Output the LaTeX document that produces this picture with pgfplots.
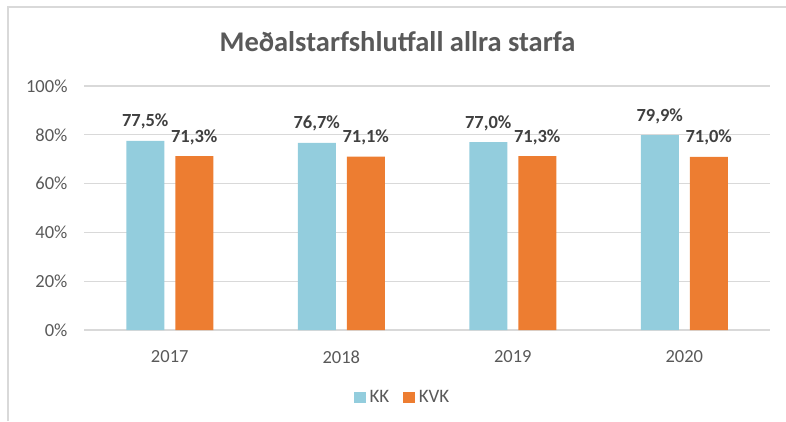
\documentclass[border=0pt]{standalone}
\usepackage{fontspec}
\setmainfont{Carlito}
\usepackage{pgfplots}
\pgfplotsset{compat=1.18}
\definecolor{kk}{HTML}{93CDDD}
\definecolor{kvk}{HTML}{ED7D31}
\definecolor{txt}{HTML}{595959}
\definecolor{lbl}{HTML}{404040}
\definecolor{grd}{HTML}{D9D9D9}
\begin{document}
\begin{tikzpicture}
\path[use as bounding box] (0pt,0pt) rectangle (786pt,421pt);
\draw[grd, line width=1.5pt] (8pt,0pt) -- (8pt,414pt) -- (786pt,414pt);
\node[anchor=base, text=txt, font=\fontsize{28.5}{32}\selectfont\bfseries, inner sep=0pt] at (397.5pt,369pt) {Meðalstarfshlutfall allra starfa};
\begin{axis}[
  at={(84pt,91pt)}, anchor=south west,
  scale only axis, width=686pt, height=244pt,
  ymin=0, ymax=100, xmin=-0.5, xmax=3.5,
  ybar=11pt, bar width=38pt,
  xtick=data, xticklabels={2017,2018,2019,2020},
  ytick={0,20,...,100},
  /pgf/number format/assume math mode=true,
  yticklabel={\pgfmathprintnumber{\tick}\%},
  ymajorgrids, grid style={grd, line width=1.3pt},
  axis line style={draw=none},
  tick style={draw=none},
  tick label style={font=\fontsize{18.5}{20}\selectfont, text=txt},
  yticklabel style={xshift=-13pt},
  xticklabel style={yshift=-13pt},
  nodes near coords={\pgfmathprintnumber[fixed,fixed zerofill,precision=1,use comma]{\pgfplotspointmeta}\%},
  every node near coord/.append style={font=\fontsize{18.5}{20}\selectfont\bfseries, text=lbl, anchor=base, yshift=14pt, inner sep=0pt},
  legend style={at={(0.466,-0.2746)}, anchor=center, draw=none, legend columns=2,
    font=\fontsize{19}{20}\selectfont, text=txt,
    nodes={inner xsep=4pt},
    /tikz/every even column/.append style={column sep=10pt}},
  legend image code/.code={\fill[#1] (0pt,-5.5pt) rectangle (11.5pt,5.5pt);},
]
\addplot[fill=kk, draw=none] coordinates {(0,77.5) (1,76.7) (2,77.0) (3,79.9)};
\addplot[fill=kvk, draw=none] coordinates {(0,71.3) (1,71.1) (2,71.3) (3,71.0)};
\legend{KK,KVK}
\end{axis}
\end{tikzpicture}
\end{document}
